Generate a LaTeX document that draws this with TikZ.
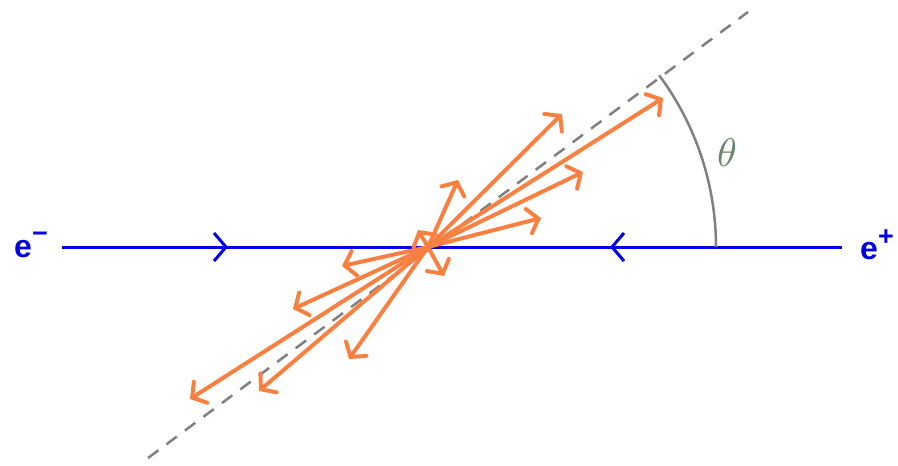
\documentclass[tikz,border=0pt]{standalone}
\usepackage{fontspec}
\setsansfont{Liberation Sans}
\usetikzlibrary{arrows.meta,decorations.markings}
\definecolor{eblue}{RGB}{0,0,230}
\definecolor{ray}{RGB}{250,128,66}
\definecolor{axisgray}{RGB}{128,128,128}
\definecolor{thetacol}{RGB}{105,135,105}
\newcommand{\chargesup}[1]{\raisebox{0.45em}{\fontsize{27}{27}\selectfont #1}}
\tikzset{
  beam/.style={draw=eblue,line width=3pt},
  midarrows/.style={decoration={markings,
     mark=at position 0.2128 with {\arrow{Straight Barb[length=12pt,width=28pt,line width=3pt]}},
     mark=at position 0.7026 with {\arrowreversed{Straight Barb[length=12pt,width=28pt,line width=3pt]}}},
     postaction={decorate}},
  particle/.style={text=eblue,font=\sffamily\bfseries\fontsize{32}{36}\selectfont,inner sep=0pt},
  rayarrow/.style={draw=ray,line width=4pt,line cap=round,
     -{Straight Barb[length=10pt,width=25pt,line width=4pt,line cap=round]}},
  axisline/.style={draw=axisgray,line width=2.5pt,dash pattern=on 13pt off 10pt},
  anglearc/.style={draw=axisgray,line width=2.5pt},
}
\begin{document}
\begin{tikzpicture}[x=1pt,y=-1pt]
\useasboundingbox (0,0) rectangle (898,466);
\coordinate (O) at (428,247);
\coordinate (L) at (62,247);
\coordinate (R) at (842,247);
\node[particle] (em) at (31,245) {e\chargesup{−}};
\node[particle] (ep) at (877,245) {e\chargesup{+}};
% axis
\coordinate (A1) at (148,458);
\coordinate (A2) at (748,12);
\draw[axisline] (A1) -- (A2);
% beam
\draw[beam,midarrows] (L) -- (R);
% angle
\draw[anglearc] (O) ++(0:288) arc[start angle=0,end angle=-36.6,radius=288];
\node[text=thetacol] (th) at (727,153) {\scalebox{4}{$\theta$}};
% rays
\coordinate (r1) at (663,98);
\coordinate (r2) at (562,114);
\coordinate (r3) at (583,172);
\coordinate (r4) at (541,218);
\coordinate (r5) at (458,180);
\coordinate (r6) at (418,230);
\coordinate (r7) at (444,276);
\coordinate (r8) at (190,399);
\coordinate (r9) at (259,391);
\coordinate (r10) at (293,309);
\coordinate (r11) at (342,266);
\coordinate (r12) at (349,359);
\draw[rayarrow] (O) -- (r1);
\draw[rayarrow] (O) -- (r2);
\draw[rayarrow] (O) -- (r3);
\draw[rayarrow] (O) -- (r4);
\draw[rayarrow] (O) -- (r5);
\draw[rayarrow] (O) -- (r6);
\draw[rayarrow] (O) -- (r7);
\draw[rayarrow] (O) -- (r8);
\draw[rayarrow] (O) -- (r9);
\draw[rayarrow] (O) -- (r10);
\draw[rayarrow] (O) -- (r11);
\draw[rayarrow] (O) -- (r12);
\end{tikzpicture}
\end{document}
